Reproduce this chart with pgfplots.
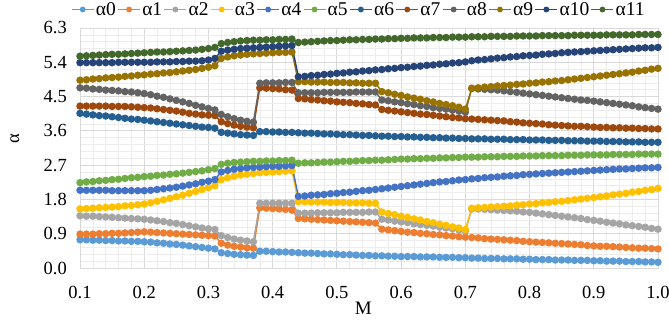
\documentclass[border=0pt]{standalone}
\usepackage{fontspec}
\setmainfont{Liberation Serif}
\usepackage{pgfplots}
\usepackage{pgfplotstable}
\pgfplotsset{compat=1.18}
\definecolor{c0}{HTML}{5B9BD5}
\definecolor{c1}{HTML}{ED7D31}
\definecolor{c2}{HTML}{A5A5A5}
\definecolor{c3}{HTML}{FFC000}
\definecolor{c4}{HTML}{4472C4}
\definecolor{c5}{HTML}{70AD47}
\definecolor{c6}{HTML}{255E91}
\definecolor{c7}{HTML}{9E480E}
\definecolor{c8}{HTML}{636363}
\definecolor{c9}{HTML}{997300}
\definecolor{c10}{HTML}{264478}
\definecolor{c11}{HTML}{43682B}
\definecolor{gmaj}{HTML}{D9D9D9}
\definecolor{gmin}{HTML}{EDEDED}
\pgfplotstableread{
M a0 a1 a2 a3 a4 a5 a6 a7 a8 a9 a10 a11
0.10 0.74 0.89 1.37 1.55 2.04 2.24 4.06 4.25 4.73 4.93 5.39 5.56
0.11 0.74 0.89 1.36 1.56 2.04 2.26 4.04 4.25 4.72 4.94 5.39 5.57
0.12 0.73 0.89 1.36 1.57 2.04 2.27 4.02 4.25 4.70 4.96 5.39 5.58
0.13 0.73 0.90 1.35 1.58 2.04 2.29 4.00 4.25 4.69 4.97 5.39 5.59
0.14 0.72 0.90 1.34 1.59 2.04 2.30 3.99 4.25 4.67 4.99 5.39 5.60
0.15 0.72 0.91 1.33 1.60 2.03 2.32 3.97 4.24 4.66 5.00 5.39 5.61
0.16 0.71 0.91 1.32 1.61 2.03 2.33 3.95 4.24 4.65 5.01 5.40 5.61
0.17 0.71 0.92 1.31 1.63 2.03 2.35 3.93 4.24 4.63 5.03 5.40 5.62
0.18 0.70 0.93 1.30 1.64 2.03 2.37 3.91 4.23 4.62 5.04 5.40 5.63
0.19 0.70 0.94 1.29 1.66 2.03 2.38 3.90 4.22 4.60 5.06 5.40 5.64
0.20 0.69 0.95 1.28 1.68 2.03 2.40 3.88 4.21 4.58 5.07 5.40 5.65
0.21 0.68 0.94 1.26 1.71 2.04 2.41 3.86 4.20 4.55 5.09 5.40 5.66
0.22 0.66 0.93 1.24 1.75 2.06 2.43 3.84 4.18 4.51 5.10 5.41 5.67
0.23 0.65 0.92 1.22 1.79 2.08 2.44 3.82 4.16 4.48 5.12 5.41 5.67
0.24 0.63 0.91 1.19 1.83 2.10 2.46 3.80 4.14 4.44 5.13 5.41 5.68
0.25 0.62 0.90 1.17 1.87 2.12 2.47 3.78 4.12 4.40 5.15 5.42 5.69
0.26 0.60 0.89 1.14 1.91 2.15 2.49 3.76 4.09 4.36 5.17 5.42 5.70
0.27 0.58 0.88 1.11 1.96 2.18 2.51 3.74 4.06 4.32 5.19 5.43 5.71
0.28 0.56 0.87 1.08 2.01 2.21 2.53 3.72 4.04 4.27 5.21 5.43 5.72
0.29 0.54 0.86 1.05 2.06 2.25 2.55 3.70 4.02 4.23 5.24 5.44 5.74
0.30 0.52 0.85 1.03 2.11 2.28 2.58 3.69 4.01 4.19 5.27 5.46 5.76
0.31 0.50 0.84 1.01 2.16 2.32 2.61 3.67 4.00 4.15 5.31 5.50 5.79
0.32 0.40 0.65 0.85 2.32 2.52 2.72 3.56 3.84 4.03 5.50 5.69 5.89
0.33 0.38 0.60 0.80 2.37 2.56 2.75 3.54 3.79 3.97 5.54 5.72 5.92
0.34 0.36 0.57 0.76 2.41 2.59 2.77 3.52 3.75 3.92 5.57 5.74 5.94
0.35 0.35 0.55 0.73 2.44 2.61 2.78 3.50 3.72 3.88 5.59 5.76 5.96
0.36 0.34 0.53 0.71 2.46 2.63 2.79 3.49 3.70 3.85 5.61 5.77 5.97
0.37 0.33 0.52 0.69 2.48 2.64 2.80 3.48 3.68 3.83 5.62 5.78 5.98
0.38 0.44 1.58 1.70 2.50 2.65 2.80 3.58 4.73 4.85 5.63 5.79 5.98
0.39 0.44 1.57 1.70 2.51 2.66 2.81 3.58 4.72 4.86 5.64 5.80 5.99
0.40 0.43 1.56 1.70 2.52 2.67 2.81 3.57 4.71 4.86 5.65 5.81 5.99
0.41 0.42 1.55 1.70 2.53 2.67 2.82 3.57 4.70 4.86 5.66 5.82 6.00
0.42 0.42 1.54 1.70 2.54 2.68 2.82 3.56 4.68 4.87 5.66 5.83 6.00
0.43 0.41 1.52 1.70 2.55 2.69 2.83 3.56 4.67 4.87 5.67 5.84 6.01
0.44 0.40 1.30 1.44 1.74 1.88 2.75 3.55 4.45 4.60 4.89 5.02 5.92
0.45 0.39 1.29 1.44 1.74 1.89 2.76 3.54 4.44 4.60 4.89 5.03 5.93
0.46 0.39 1.28 1.44 1.73 1.91 2.76 3.54 4.42 4.60 4.88 5.05 5.94
0.47 0.38 1.27 1.45 1.73 1.92 2.77 3.53 4.41 4.60 4.88 5.06 5.95
0.48 0.37 1.26 1.45 1.73 1.93 2.78 3.52 4.39 4.61 4.88 5.08 5.96
0.49 0.37 1.25 1.45 1.72 1.95 2.78 3.52 4.38 4.61 4.87 5.09 5.97
0.50 0.36 1.24 1.45 1.72 1.96 2.79 3.51 4.36 4.61 4.87 5.11 5.97
0.51 0.35 1.23 1.46 1.72 1.98 2.80 3.50 4.35 4.61 4.87 5.12 5.98
0.52 0.35 1.22 1.46 1.71 1.99 2.80 3.50 4.34 4.61 4.86 5.14 5.99
0.53 0.34 1.21 1.46 1.71 2.01 2.81 3.49 4.32 4.62 4.86 5.15 5.99
0.54 0.33 1.20 1.46 1.71 2.03 2.82 3.48 4.31 4.62 4.85 5.17 6.00
0.55 0.33 1.19 1.47 1.70 2.04 2.82 3.48 4.29 4.62 4.85 5.18 6.00
0.56 0.32 1.18 1.47 1.70 2.06 2.83 3.47 4.28 4.62 4.85 5.20 6.01
0.57 0.32 1.02 1.28 1.47 2.08 2.83 3.46 4.16 4.41 4.63 5.21 6.01
0.58 0.31 1.00 1.26 1.43 2.10 2.84 3.46 4.14 4.39 4.60 5.23 6.02
0.59 0.31 0.98 1.23 1.40 2.12 2.85 3.45 4.12 4.36 4.56 5.24 6.02
0.60 0.30 0.96 1.21 1.36 2.14 2.86 3.45 4.10 4.34 4.53 5.26 6.03
0.61 0.30 0.94 1.19 1.33 2.16 2.86 3.44 4.08 4.31 4.49 5.27 6.03
0.62 0.30 0.93 1.16 1.29 2.18 2.87 3.44 4.06 4.29 4.46 5.29 6.04
0.63 0.29 0.91 1.14 1.26 2.20 2.87 3.43 4.04 4.26 4.43 5.30 6.04
0.64 0.29 0.90 1.12 1.22 2.22 2.88 3.43 4.03 4.24 4.39 5.32 6.04
0.65 0.29 0.88 1.10 1.19 2.24 2.88 3.42 4.01 4.21 4.36 5.33 6.05
0.66 0.28 0.87 1.07 1.15 2.26 2.89 3.42 3.99 4.19 4.32 5.35 6.05
0.67 0.28 0.85 1.05 1.12 2.27 2.89 3.41 3.97 4.17 4.29 5.36 6.05
0.68 0.28 0.84 1.03 1.08 2.29 2.90 3.41 3.95 4.14 4.26 5.38 6.06
0.69 0.27 0.82 1.00 1.05 2.31 2.90 3.40 3.94 4.12 4.22 5.39 6.06
0.70 0.27 0.81 0.97 1.01 2.32 2.91 3.40 3.92 4.09 4.17 5.41 6.06
0.71 0.26 0.80 1.55 1.57 2.34 2.91 3.39 3.91 4.71 4.72 5.44 6.07
0.72 0.26 0.79 1.55 1.58 2.35 2.91 3.39 3.90 4.70 4.73 5.46 6.07
0.73 0.25 0.77 1.54 1.59 2.37 2.92 3.39 3.89 4.69 4.75 5.47 6.07
0.74 0.25 0.76 1.53 1.60 2.38 2.92 3.38 3.88 4.68 4.76 5.49 6.08
0.75 0.25 0.75 1.52 1.61 2.39 2.92 3.38 3.87 4.67 4.78 5.51 6.08
0.76 0.24 0.74 1.51 1.62 2.41 2.93 3.38 3.86 4.65 4.79 5.52 6.08
0.77 0.24 0.73 1.50 1.63 2.42 2.93 3.37 3.84 4.63 4.80 5.54 6.08
0.78 0.24 0.72 1.49 1.65 2.43 2.93 3.37 3.83 4.61 4.82 5.55 6.09
0.79 0.23 0.70 1.47 1.66 2.45 2.94 3.37 3.81 4.59 4.83 5.57 6.09
0.80 0.23 0.69 1.46 1.68 2.46 2.94 3.36 3.80 4.57 4.85 5.58 6.09
0.81 0.22 0.68 1.44 1.69 2.47 2.94 3.36 3.79 4.55 4.86 5.59 6.09
0.82 0.22 0.67 1.42 1.71 2.48 2.95 3.36 3.78 4.53 4.88 5.61 6.10
0.83 0.22 0.66 1.40 1.72 2.49 2.95 3.35 3.76 4.51 4.89 5.62 6.10
0.84 0.21 0.65 1.38 1.74 2.50 2.95 3.35 3.75 4.49 4.91 5.63 6.10
0.85 0.21 0.64 1.36 1.75 2.51 2.95 3.35 3.74 4.47 4.92 5.65 6.10
0.86 0.21 0.63 1.34 1.77 2.52 2.96 3.34 3.73 4.45 4.94 5.66 6.10
0.87 0.20 0.62 1.32 1.79 2.53 2.96 3.34 3.72 4.43 4.96 5.67 6.11
0.88 0.20 0.61 1.30 1.81 2.54 2.96 3.34 3.72 4.41 4.98 5.68 6.11
0.89 0.20 0.59 1.27 1.83 2.55 2.97 3.33 3.71 4.40 5.00 5.69 6.11
0.90 0.19 0.58 1.25 1.85 2.56 2.97 3.33 3.70 4.38 5.02 5.70 6.11
0.91 0.19 0.57 1.23 1.87 2.57 2.97 3.33 3.69 4.36 5.04 5.71 6.11
0.92 0.18 0.57 1.20 1.89 2.58 2.97 3.32 3.69 4.34 5.06 5.72 6.12
0.93 0.18 0.56 1.18 1.92 2.59 2.98 3.32 3.68 4.32 5.08 5.73 6.12
0.94 0.18 0.55 1.16 1.94 2.60 2.98 3.32 3.68 4.30 5.10 5.74 6.12
0.95 0.17 0.54 1.13 1.96 2.60 2.98 3.31 3.67 4.28 5.12 5.75 6.12
0.96 0.17 0.53 1.11 1.99 2.61 2.98 3.31 3.67 4.26 5.14 5.76 6.12
0.97 0.17 0.52 1.09 2.01 2.62 2.99 3.31 3.66 4.23 5.17 5.77 6.13
0.98 0.16 0.52 1.07 2.04 2.63 2.99 3.30 3.66 4.21 5.19 5.78 6.13
0.99 0.16 0.51 1.04 2.06 2.63 2.99 3.30 3.65 4.19 5.22 5.78 6.13
1.00 0.15 0.50 1.02 2.09 2.64 2.99 3.30 3.65 4.17 5.24 5.79 6.13
}\datatable
\begin{document}
\begin{tikzpicture}
\begin{axis}[
  at={(0pt,0pt)}, anchor=south west,
  scale only axis, width=578pt, height=240pt,
  xmin=0.1, xmax=1.0, ymin=0, ymax=6.3,
  xtick={0.1,0.2,0.3,0.4,0.5,0.6,0.7,0.8,0.9,1.0},
  ytick={0,0.9,1.8,2.7,3.6,4.5,5.4,6.3},
  minor x tick num=4, minor y tick num=4,
  grid=both,
  major grid style={draw=gmaj, line width=0.8pt},
  minor grid style={draw=gmin, line width=0.6pt},
  axis line style={draw=gmaj, line width=0.8pt},
  major tick length=0pt, minor tick length=0pt,
  /pgf/number format/assume math mode=true,
  /pgf/number format/fixed,
  /pgf/number format/fixed zerofill,
  /pgf/number format/precision=1,
  ticklabel style={font=\fontsize{18.5}{21}\selectfont, inner sep=0pt},
  yticklabel style={xshift=-13pt},
  xticklabel style={yshift=-18pt},
  xlabel={M},
  ylabel={α},
  xlabel style={at={(axis description cs:0.49,-0.167)}, anchor=center, font=\fontsize{19}{21}\selectfont},
  ylabel style={at={(axis description cs:-0.1125,0.54)}, anchor=center, font=\fontsize{18.5}{21}\selectfont},
  legend columns=12,
  legend style={at={(axis description cs:0.482,1.077)}, anchor=center, draw=none, fill=none,
    font=\fontsize{19.5}{22}\selectfont, inner sep=0pt,
    nodes={inner sep=1.5pt},
    /tikz/every even column/.append style={column sep=0pt}},
  legend image code/.code={\draw[mark repeat=2, mark phase=2, mark size=2.2pt, line width=1.4pt] plot coordinates {(0pt,0pt) (11pt,0pt) (22pt,0pt)};},
  every axis plot/.append style={line width=1.4pt, mark=*, mark size=3pt},
  clip=false,
]
\addplot[c0, mark options={fill=c0, draw=c0}] table[x=M, y=a0] {\datatable};
\addlegendentry{α0}
\addplot[c1, mark options={fill=c1, draw=c1}] table[x=M, y=a1] {\datatable};
\addlegendentry{α1}
\addplot[c2, mark options={fill=c2, draw=c2}] table[x=M, y=a2] {\datatable};
\addlegendentry{α2}
\addplot[c3, mark options={fill=c3, draw=c3}] table[x=M, y=a3] {\datatable};
\addlegendentry{α3}
\addplot[c4, mark options={fill=c4, draw=c4}] table[x=M, y=a4] {\datatable};
\addlegendentry{α4}
\addplot[c5, mark options={fill=c5, draw=c5}] table[x=M, y=a5] {\datatable};
\addlegendentry{α5}
\addplot[c6, mark options={fill=c6, draw=c6}] table[x=M, y=a6] {\datatable};
\addlegendentry{α6}
\addplot[c7, mark options={fill=c7, draw=c7}] table[x=M, y=a7] {\datatable};
\addlegendentry{α7}
\addplot[c8, mark options={fill=c8, draw=c8}] table[x=M, y=a8] {\datatable};
\addlegendentry{α8}
\addplot[c9, mark options={fill=c9, draw=c9}] table[x=M, y=a9] {\datatable};
\addlegendentry{α9}
\addplot[c10, mark options={fill=c10, draw=c10}] table[x=M, y=a10] {\datatable};
\addlegendentry{α10}
\addplot[c11, mark options={fill=c11, draw=c11}] table[x=M, y=a11] {\datatable};
\addlegendentry{α11}
\end{axis}
\pgfresetboundingbox
\useasboundingbox (-80pt,-55pt) rectangle (589pt,268pt);
\end{tikzpicture}
\end{document}
